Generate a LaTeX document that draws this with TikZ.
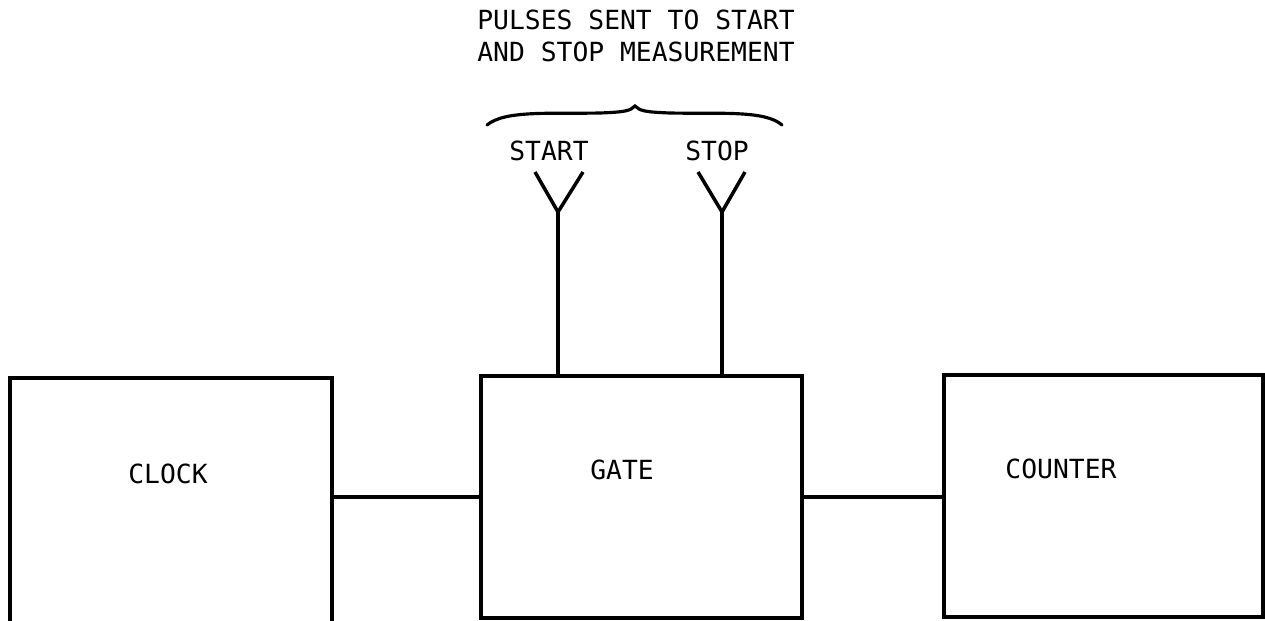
\documentclass[tikz,border=0pt]{standalone}
\usepackage{fontspec}
\newfontfamily\lettering{DejaVu Sans Mono}
\usetikzlibrary{calc,positioning}

\tikzset{
    blockbox/.style={draw, line width=2pt, rectangle, inner sep=0pt},
    wire/.style={line width=2pt},
    lbl/.style={font=\lettering\fontsize{15}{18}\selectfont, inner sep=0pt}
}

\begin{document}
\begin{tikzpicture}[x=0.02cm, y=-0.02cm]
    \useasboundingbox (0,0) rectangle (1265,620);

    % Blok utama
    \node[blockbox, minimum width=6.44cm, minimum height=5.64cm] (clock) at (171,519) {};
    \node[blockbox, minimum width=6.42cm, minimum height=4.84cm] (gate) at (641.5,497) {};
    \node[blockbox, minimum width=6.38cm, minimum height=4.84cm] (counter) at (1103.5,496) {};

    % Label blok
    \node[lbl] (clocktext) at (168,474) {CLOCK};
    \node[lbl] (gatetext) at (622,470) {GATE};
    \node[lbl] (countertext) at (1061,469) {COUNTER};

    % Penghubung antar blok
    \draw[wire] (clock.east |- gate.west) -- (gate.west);
    \draw[wire] (gate.east) -- (counter.west |- gate.east);

    % Antena START dan STOP
    \coordinate (startv) at (558,212);
    \coordinate (startl) at (535,172);
    \coordinate (startr) at (583,172);
    \coordinate (stopv) at (722,212);
    \coordinate (stopl) at (698,172);
    \coordinate (stopr) at (745,172);
    \draw[wire] (startv |- gate.north) -- (startv);
    \draw[wire] (startl) -- (startv) -- (startr);
    \draw[wire] (stopv |- gate.north) -- (stopv);
    \draw[wire] (stopl) -- (stopv) -- (stopr);

    \node[lbl] (starttext) at (549,151) {START};
    \node[lbl] (stoptext) at (717,151) {STOP};

    % Kurung kurawal dan judul
    \coordinate (bracel) at (487,125);
    \coordinate (bracetip) at (635,106);
    \coordinate (bracer) at (782,125);
    \draw[line width=1.8pt, line cap=round]
        (bracel) .. controls (505,110) and (550,114) .. (600,113)
        .. controls (625,112) and (630,111) .. (bracetip)
        .. controls (640,111) and (645,112) .. (670,113)
        .. controls (720,114) and (765,110) .. (bracer);

    \node[lbl, align=center] (title) at (636,36)
        {PULSES SENT TO START\\AND STOP MEASUREMENT};
\end{tikzpicture}
\end{document}
